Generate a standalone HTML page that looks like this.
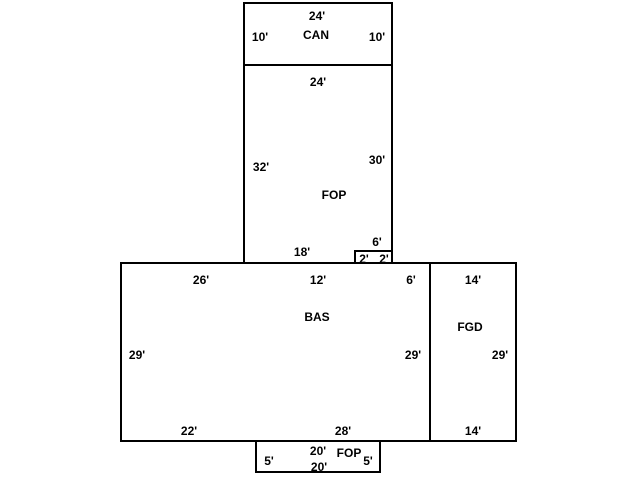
<html><body style="margin:0;background:#fff">
<svg width="640" height="480" xmlns="http://www.w3.org/2000/svg" style="font-family:'Liberation Sans',sans-serif;font-weight:bold;font-size:12px">
<g fill="none" stroke="#000" stroke-width="2">
<rect x="244" y="3" width="148" height="62"/>
<polyline points="244,65 244,263 355,263 355,251 392,251 392,65"/>
<line x1="392" y1="251" x2="392" y2="263"/>
<rect x="121" y="263" width="309" height="178"/>
<rect x="430" y="263" width="86" height="178"/>
<rect x="256" y="441" width="124" height="31"/>
</g>
<g fill="#000" text-anchor="middle">
<text x="317" y="20">24'</text><text x="260" y="41">10'</text><text x="316" y="39">CAN</text><text x="377" y="41">10'</text>
<text x="318" y="86">24'</text><text x="261" y="171">32'</text><text x="377" y="164">30'</text><text x="334" y="199">FOP</text>
<text x="302" y="256">18'</text><text x="377" y="246">6'</text><text x="364" y="263">2'</text><text x="384" y="263">2'</text>
<text x="201" y="284">26'</text><text x="318" y="284">12'</text><text x="411" y="284">6'</text><text x="317" y="321">BAS</text>
<text x="137" y="359">29'</text><text x="413" y="359">29'</text><text x="189" y="435">22'</text><text x="343" y="435">28'</text>
<text x="473" y="284">14'</text><text x="470" y="331">FGD</text><text x="500" y="359">29'</text><text x="473" y="435">14'</text>
<text x="269" y="465">5'</text><text x="318" y="455">20'</text><text x="319" y="471">20'</text><text x="349" y="457">FOP</text><text x="368" y="465">5'</text>
</g>
</svg>
</body></html>
